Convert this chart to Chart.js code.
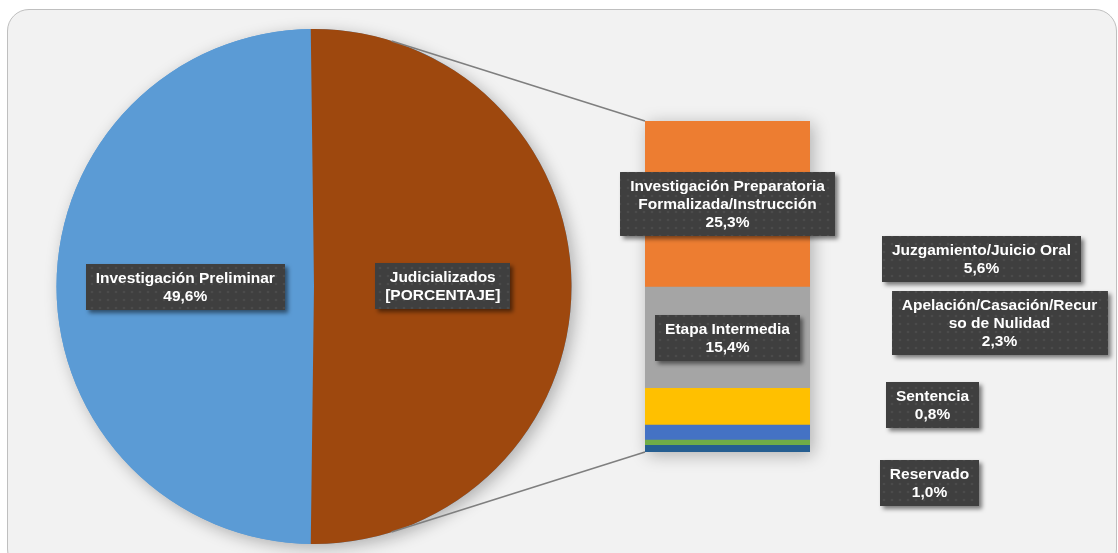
<!DOCTYPE html>
<html>
<head>
<meta charset="utf-8">
<script src="https://cdn.jsdelivr.net/npm/chart.js@4.4.0/dist/chart.umd.min.js"></script>
<style>
body { margin:0; background:#fff; overflow:hidden; }
#frame { position:absolute; left:7px; top:9px; width:1108px; height:560px; background:#f2f2f2; border:1.5px solid #bfbfbf; border-radius:22px; }
canvas { position:absolute; left:0; top:0; }
</style>
</head>
<body>
<div id="frame"></div>
<canvas id="pie" width="1118" height="553"></canvas>
<canvas id="bar" width="1118" height="553"></canvas>
<script>
// pie (primary)
var pieCategories = ['Investigación Preliminar', 'Judicializados'];
var pieValues = [49.6, 50.4];
var pieColors = ['#5B9BD5', '#9E480E'];
var pieShownText = [null, '[PORCENTAJE]']; // the original shows the raw field placeholder here

// bar (secondary, breakdown of Judicializados), listed top to bottom
var barCategories = [['Investigación Preparatoria', 'Formalizada/Instrucción'], ['Etapa Intermedia'], ['Juzgamiento/Juicio Oral'], ['Apelación/Casación/Recur', 'so de Nulidad'], ['Sentencia'], ['Reservado']];
var barValues = [25.3, 15.4, 5.6, 2.3, 0.8, 1.0];
var barColors = ['#ED7D31', '#A5A5A5', '#FFC000', '#4472C4', '#70AD47', '#255E91'];
// labels moved away from the thin segments (dx, dy from the segment centre)
var barLabelShift = [[0, 0], [0, 0], [254, -148], [272, -110], [205, -38], [202, 34]];

function pct(v) { return v.toFixed(1).replace('.', ',') + '%'; }

// dotted dark texture for the label boxes
var dots = document.createElement('canvas');
dots.width = 8; dots.height = 8;
var dc = dots.getContext('2d');
dc.fillStyle = '#3f3f3f'; dc.fillRect(0, 0, 8, 8);
dc.fillStyle = '#4b4b4b'; dc.beginPath(); dc.arc(4, 4, 1.3, 0, Math.PI * 2); dc.fill();

function drawLabel(ctx, lines, cx, cy) {
	var lh = 18;
	ctx.save();
	ctx.font = 'bold 15.5px "Liberation Sans", Arial, sans-serif';
	var w = 0;
	lines.forEach(function (l) { w = Math.max(w, ctx.measureText(l).width); });
	var bw = Math.round(w + 20), bh = lines.length * lh + 10;
	var x = Math.round(cx - bw / 2), y = Math.round(cy - bh / 2);
	ctx.shadowColor = 'rgba(0,0,0,0.5)';
	ctx.shadowBlur = 4; ctx.shadowOffsetX = 3; ctx.shadowOffsetY = 3;
	ctx.fillStyle = ctx.createPattern(dots, 'repeat');
	ctx.fillRect(x, y, bw, bh);
	ctx.shadowColor = 'transparent';
	ctx.fillStyle = '#fff';
	ctx.textAlign = 'center';
	ctx.textBaseline = 'middle';
	lines.forEach(function (l, i) { ctx.fillText(l, cx, y + 5 + lh * i + lh / 2 + 1); });
	ctx.restore();
}

var pieTotal = pieValues.reduce(function (a, b) { return a + b; }, 0);

var pieChart = new Chart(document.getElementById('pie'), {
	type: 'pie',
	data: {
		labels: pieCategories,
		datasets: [{ data: pieValues, backgroundColor: pieColors, borderWidth: 0 }]
	},
	options: {
		responsive: false,
		animation: false,
		rotation: 270 - pieValues[0] / pieTotal * 180,
		layout: { padding: { left: 56, right: 546, top: 29, bottom: 9 } },
		plugins: { legend: { display: false }, tooltip: { enabled: false } }
	},
	plugins: [{
		id: 'pieShadowAndLabels',
		beforeDatasetsDraw: function (chart) {
			var a = chart.getDatasetMeta(0).data[0];
			var ctx = chart.ctx;
			ctx.save();
			ctx.shadowColor = 'rgba(0,0,0,0.28)';
			ctx.shadowBlur = 16; ctx.shadowOffsetX = 4; ctx.shadowOffsetY = 4;
			ctx.fillStyle = pieColors[0];
			ctx.beginPath(); ctx.arc(a.x, a.y, a.outerRadius, 0, Math.PI * 2); ctx.fill();
			ctx.restore();
		},
		afterDraw: function (chart) {
			chart.getDatasetMeta(0).data.forEach(function (arc, i) {
				var p = arc.tooltipPosition();
				var txt = pieShownText[i] || pct(pieValues[i]);
				drawLabel(chart.ctx, [pieCategories[i], txt], p.x, p.y);
			});
		}
	}]
});

// stacked bar: first dataset sits at the bottom, so build from the bottom up
var barTotal = barValues.reduce(function (a, b) { return a + b; }, 0);
var barSets = [];
for (var i = barValues.length - 1; i >= 0; i--) {
	barSets.push({
		label: barCategories[i].join(' '),
		data: [barValues[i]],
		backgroundColor: barColors[i],
		borderWidth: 0,
		barPercentage: 1,
		categoryPercentage: 1,
		idx: i
	});
}

function barEdges(chart) {
	var n = chart.data.datasets.length;
	var bottom = chart.getDatasetMeta(0).data[0];
	var top = chart.getDatasetMeta(n - 1).data[0];
	return { left: top.x - top.width / 2, right: top.x + top.width / 2, top: top.y, bottom: bottom.base };
}

new Chart(document.getElementById('bar'), {
	type: 'bar',
	data: { labels: ['Judicializados'], datasets: barSets },
	options: {
		responsive: false,
		animation: false,
		layout: { padding: { left: 645, right: 308, top: 121, bottom: 101 } },
		scales: {
			x: { display: false, stacked: true },
			y: { display: false, stacked: true, min: 0, max: barTotal }
		},
		plugins: { legend: { display: false }, tooltip: { enabled: false } }
	},
	plugins: [{
		id: 'connectorsAndShadow',
		beforeDatasetsDraw: function (chart) {
			var ctx = chart.ctx;
			var e = barEdges(chart);
			var a = pieChart.getDatasetMeta(0).data[0];
			// tangent lines from the bar's left corners to the pie
			[[e.left, e.top, -1], [e.left, e.bottom, 1]].forEach(function (c) {
				var dx = c[0] - a.x, dy = c[1] - a.y;
				var d = Math.sqrt(dx * dx + dy * dy);
				var t = Math.atan2(dy, dx) + c[2] * Math.acos(a.outerRadius / d);
				ctx.save();
				ctx.strokeStyle = '#7f7f7f';
				ctx.lineWidth = 1.6;
				ctx.beginPath();
				ctx.moveTo(a.x + a.outerRadius * Math.cos(t), a.y + a.outerRadius * Math.sin(t));
				ctx.lineTo(c[0], c[1]);
				ctx.stroke();
				ctx.restore();
			});
			ctx.save();
			ctx.shadowColor = 'rgba(0,0,0,0.28)';
			ctx.shadowBlur = 16; ctx.shadowOffsetX = 3; ctx.shadowOffsetY = 3;
			ctx.fillStyle = barColors[0];
			ctx.fillRect(e.left, e.top, e.right - e.left, e.bottom - e.top);
			ctx.restore();
		},
		afterDraw: function (chart) {
			chart.data.datasets.forEach(function (ds, k) {
				var el = chart.getDatasetMeta(k).data[0];
				var i = ds.idx;
				var cx = el.x + barLabelShift[i][0];
				var cy = (el.y + el.base) / 2 + barLabelShift[i][1];
				drawLabel(chart.ctx, barCategories[i].concat([pct(barValues[i])]), cx, cy);
			});
		}
	}]
});
</script>
</body>
</html>
